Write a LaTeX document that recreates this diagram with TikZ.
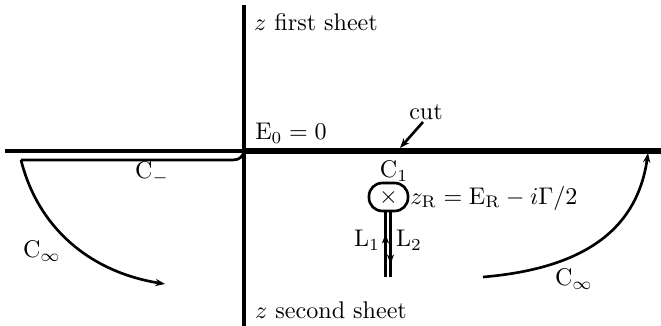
\documentclass[tikz,border=0pt]{standalone}
\usetikzlibrary{arrows.meta}
\begin{document}
\begin{tikzpicture}[x=0.415pt,y=-0.415pt,
  axis/.style={line width=1.4pt},
  cutline/.style={line width=2.4pt},
  contour/.style={line width=1.1pt},
  lbl/.style={inner sep=0pt,anchor=center},
  tip/.style={-{Stealth[length=4pt,width=3pt]}}]
\useasboundingbox (0,0) rectangle (661,326);
% axes
\coordinate (vt) at (244,5);
\coordinate (vb) at (244,326);
\coordinate (hl) at (5,151);
\coordinate (o) at (244,151);
\coordinate (hr) at (661,151);
\draw[axis] (vt) -- (vb);
\draw[axis] (hl) -- (o);
\draw[cutline] (o) -- (hr);
% C- contour
\coordinate (cs) at (21,160);
\coordinate (ce) at (233,160);
\draw[contour] (cs) -- (ce) .. controls (240,160) and (243,156) .. (o);
% left C infinity
\coordinate (la) at (165,284);
\draw[contour,tip] (cs) .. controls (38,228) and (90,272) .. (la);
% right C infinity
\coordinate (rs) at (483,277);
\coordinate (ra) at (648,153);
\draw[contour,tip] (rs) .. controls (590,268) and (638,225) .. (ra);
% pole box
\node[draw,contour,rounded corners=5.5pt,minimum width=16.2pt,minimum height=11.6pt,inner sep=0pt] (box) at (388.5,197) {};
\node[lbl] (x) at (box.center) {$\times$};
% double lines
\coordinate (l1t) at (385.5,211);
\coordinate (l1b) at (385.5,277);
\coordinate (l2t) at (390.5,211);
\coordinate (l2b) at (390.5,277);
\coordinate (l1m) at (385.5,234);
\coordinate (l2m) at (390.5,264);
\draw[contour] (l1t) -- (l1b);
\draw[contour] (l2t) -- (l2b);
\draw[contour,tip] (385.5,250) -- (l1m);
\draw[contour,tip] (390.5,248) -- (l2m);
% labels
\node[lbl] (ltop) at (316,22) {$z$ first sheet};
\node[lbl] (lbot) at (331,310) {$z$ second sheet};
\node[lbl] (e0) at (291,133) {${\rm E}_0=0$};
\node[lbl] (cut) at (426,112) {cut};
\coordinate (cutstart) at (423,122);
\coordinate (cutend) at (400,148);
\draw[contour,tip] (cutstart) -- (cutend);
\node[lbl] (cm) at (152,173) {${\rm C}_-$};
\node[lbl] (cinfl) at (42,251) {${\rm C}_\infty$};
\node[lbl] (cinfr) at (574,279) {${\rm C}_\infty$};
\node[lbl] (c1) at (394,171) {${\rm C}_1$};
\node[lbl,anchor=west] (zr) at (410,198) {$z_{\rm R}={\rm E}_{\rm R}-i\Gamma/2$};
\node[lbl] (L1) at (367,240) {${\rm L}_1$};
\node[lbl] (L2) at (409,240) {${\rm L}_2$};
\end{tikzpicture}
\end{document}
